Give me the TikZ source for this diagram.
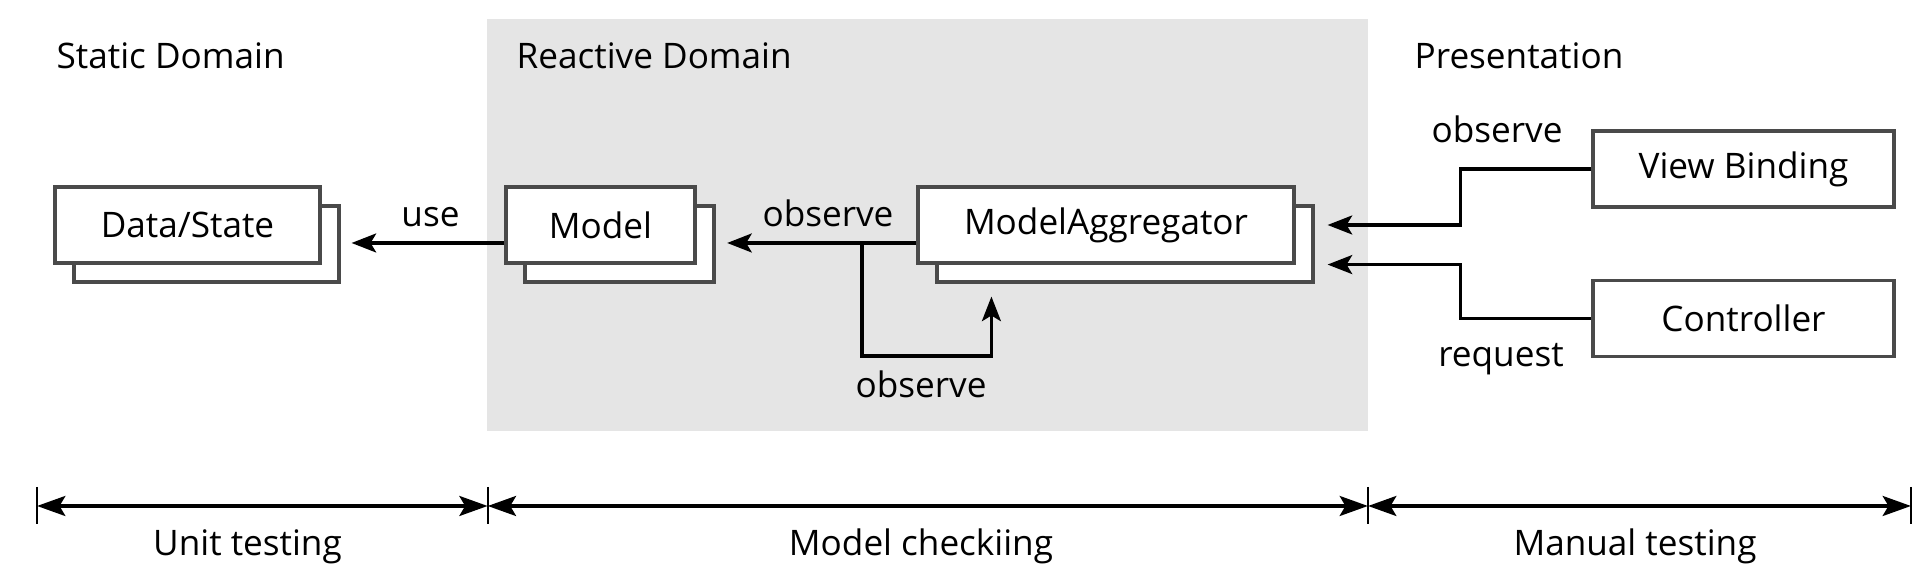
\documentclass[tikz,border=0pt]{standalone}
\usepackage{fontspec}
\setmainfont{Open Sans}
\usetikzlibrary{arrows.meta,shadows}
\definecolor{bggray}{HTML}{E5E5E5}
\definecolor{boxgray}{HTML}{4A4A4A}
\tikzset{
  box/.style={draw=boxgray,line width=0.9pt,fill=white,minimum height=0.76cm,inner sep=0pt},
  stack/.style={box,copy shadow={shadow xshift=0.19cm,shadow yshift=-0.19cm,draw=boxgray,line width=0.9pt,fill=white,opacity=1}},
  arr/.style={line width=0.9pt,-{Stealth[length=7pt,width=5.4pt,inset=1.6pt]}},
  span/.style={line width=1.3pt,{Stealth[length=8pt,width=5.6pt,inset=1.6pt]}-{Stealth[length=8pt,width=5.6pt,inset=1.6pt]}},
  tick/.style={line width=0.6pt},
  lbl/.style={inner sep=0pt,anchor=base}
}
\begin{document}
\begin{tikzpicture}[x=1cm,y=1cm,line join=miter,font=\fontsize{10pt}{12pt}\selectfont]
  \useasboundingbox (0,0) rectangle (19.31,5.81);
  \fill[bggray] (4.87,1.50) rectangle (13.68,5.62);
  % domains
  \node[lbl,anchor=base west] (hstatic) at (0.56,5.12) {Static Domain};
  \node[lbl,anchor=base west] (hreact) at (5.16,5.12) {Reactive Domain};
  \node[lbl,anchor=base west] (hpres) at (14.14,5.12) {Presentation};
  % boxes
  \node[stack,minimum width=2.65cm] (data) at (1.875,3.56) {Data/State};
  \node[stack,minimum width=1.89cm] (model) at (6.005,3.56) {Model};
  \node[stack,minimum width=3.76cm] (agg) at (11.06,3.56) {ModelAggregator};
  \node[box,minimum width=3.01cm] (view) at (17.435,4.12) {View Binding};
  \node[box,minimum width=3.01cm] (ctrl) at (17.435,2.625) {Controller};
  % connectors
  \coordinate (fork) at (8.62,3.38);
  \draw[arr] ([yshift=-0.18cm]model.west) -- ([xshift=0.30cm,yshift=-0.18cm]data.east);
  \draw[arr] ([yshift=-0.18cm]agg.west) -- ([xshift=0.306cm,yshift=-0.18cm]model.east);
  \draw[arr] (fork) -- ++(0,-1.13) -| ([xshift=0.75cm,yshift=-0.32cm]agg.south west);
  \draw[arr] (view.west) -- ++(-1.31,0) |- ([xshift=0.32cm]agg.east);
  \draw[arr] (ctrl.west) -- ++(-1.31,0) |- ([xshift=0.32cm]agg.south east);
  \node[lbl] (luse) at (4.305,3.54) {use};
  \node[lbl] (lobsa) at (8.28,3.54) {observe};
  \node[lbl] (lobsb) at (9.21,1.83) {observe};
  \node[lbl] (lobsc) at (14.97,4.38) {observe};
  \node[lbl] (lreq) at (15.01,2.14) {request};
  % testing spans
  \foreach \n/\x in {t0/0.37,t1/4.877,t2/13.68,t3/19.11} {
    \coordinate (\n) at (\x,0.75);
    \draw[tick] ([yshift=0.19cm]\n) -- ([yshift=-0.18cm]\n);
  }
  \draw[span] (t0) -- (t1);
  \draw[span] (t1) -- (t2);
  \draw[span] (t2) -- (t3);
  \node[lbl] (lunit) at (2.475,0.25) {Unit testing};
  \node[lbl] (lcheck) at (9.21,0.25) {Model checkiing};
  \node[lbl] (lmanual) at (16.35,0.25) {Manual testing};
\end{tikzpicture}
\end{document}
